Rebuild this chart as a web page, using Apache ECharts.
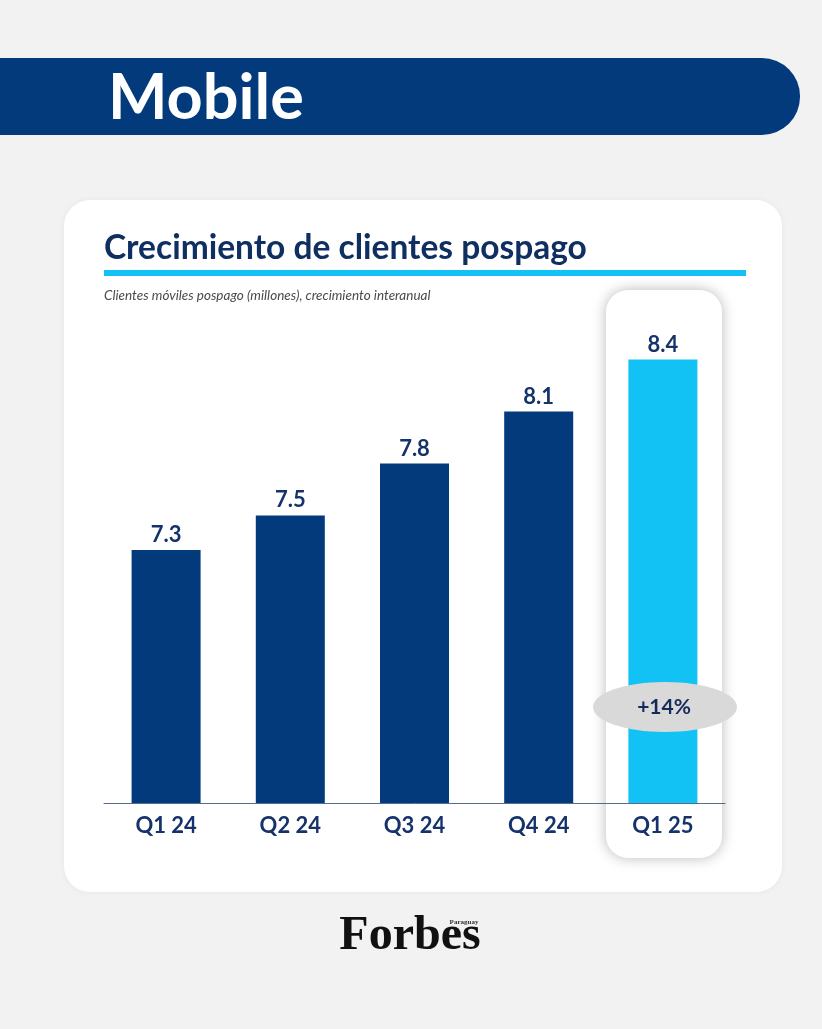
<!DOCTYPE html>
<html>
<head>
<meta charset="utf-8">
<script src="https://cdn.jsdelivr.net/npm/echarts@6/dist/echarts.min.js"></script>
<style>
  html, body { margin: 0; padding: 0; background: #f2f2f2; }
  #chart { width: 822px; height: 1029px; }
</style>
</head>
<body>
<div id="chart"></div>
<script>
var quarters = ['Q1 24', 'Q2 24', 'Q3 24', 'Q4 24', 'Q1 25'];
var clients = [7.3, 7.5, 7.8, 8.1, 8.4];
var growthLabel = '+14%';

var NAVY = '#023a7c';
var CYAN = '#12c2f4';
var TEXT = '#15336a';
var FONT = 'Lato, "Open Sans", sans-serif';

var chart = echarts.init(document.getElementById('chart'));

var opt = {
  backgroundColor: '#f2f2f2',
  animation: false,
  grid: {
    left: 104,
    right: 97,
    top: 330,
    bottom: 226
  },
  xAxis: {
    type: 'category',
    data: quarters,
    axisTick: { show: false },
    axisLine: { lineStyle: { color: '#5a6b8e', width: 1 } },
    axisLabel: {
      color: TEXT,
      fontSize: 22,
      fontWeight: 'bold',
      fontFamily: FONT,
      margin: 12
    }
  },
  yAxis: {
    type: 'value',
    min: 5.84,
    max: 8.57,
    show: false,
    splitLine: { show: false }
  },
  series: [{
    type: 'bar',
    barWidth: 69,
    z: 5,
    data: clients.map(function (v, i) {
      return {
        value: v,
        itemStyle: { color: i === clients.length - 1 ? CYAN : NAVY }
      };
    }),
    label: {
      show: true,
      position: 'top',
      distance: 4,
      color: TEXT,
      fontSize: 22,
      fontWeight: 'bold',
      fontFamily: FONT,
      formatter: function (p) {
        return p.value.toFixed(1);
      }
    }
  }],
  graphic: [
    // header band
    {
      type: 'rect',
      z: -10,
      shape: { x: -40, y: 58, width: 840, height: 77, r: [0, 38, 38, 0] },
      style: { fill: NAVY }
    },
    {
      type: 'text',
      z: -9,
      x: 108,
      y: 99,
      style: {
        text: 'Mobile',
        fill: '#fff',
        font: 'bold 63px ' + FONT,
        verticalAlign: 'middle'
      }
    },
    // white card
    {
      type: 'rect',
      z: -10,
      shape: { x: 64, y: 200, width: 718, height: 692, r: 26 },
      style: { fill: '#fff', shadowBlur: 6, shadowColor: 'rgba(0,0,0,0.05)' }
    },
    {
      type: 'text',
      z: -9,
      x: 104,
      y: 248,
      style: {
        text: 'Crecimiento de clientes pospago',
        fill: '#0f2f63',
        font: 'bold 33.5px ' + FONT,
        verticalAlign: 'middle'
      }
    },
    {
      type: 'rect',
      z: -9,
      shape: { x: 104, y: 270, width: 642, height: 6 },
      style: { fill: CYAN }
    },
    {
      type: 'text',
      z: -9,
      x: 104,
      y: 296,
      style: {
        text: 'Clientes móviles pospago (millones), crecimiento interanual',
        fill: '#4a4a4a',
        font: 'italic 13.5px ' + FONT,
        verticalAlign: 'middle'
      }
    },
    // highlight box behind last bar
    {
      type: 'rect',
      z: -8,
      shape: { x: 606, y: 290, width: 116, height: 568, r: 22 },
      style: { fill: '#fff', shadowBlur: 14, shadowColor: 'rgba(0,0,0,0.28)' }
    },
    // growth badge
    {
      type: 'ellipse',
      z: 20,
      shape: { cx: 665, cy: 707, rx: 72, ry: 25 },
      style: { fill: '#d9d9d9' }
    },
    {
      type: 'text',
      z: 21,
      x: 664,
      y: 707,
      style: {
        text: growthLabel,
        fill: '#172a5c',
        font: 'bold 21px ' + FONT,
        align: 'center',
        verticalAlign: 'middle'
      }
    },
    // footer logo
    {
      type: 'text',
      z: -9,
      x: 410,
      y: 937,
      style: {
        text: 'Forbes',
        fill: '#111',
        font: 'bold 48px "Liberation Serif", "DejaVu Serif", serif',
        align: 'center',
        verticalAlign: 'middle'
      }
    },
    {
      type: 'text',
      z: -9,
      x: 464,
      y: 922,
      style: {
        text: 'Paraguay',
        fill: '#333',
        font: 'bold 7px "Liberation Serif", serif',
        align: 'center',
        verticalAlign: 'middle'
      }
    }
  ]
};

chart.setOption(opt);
</script>
</body>
</html>
